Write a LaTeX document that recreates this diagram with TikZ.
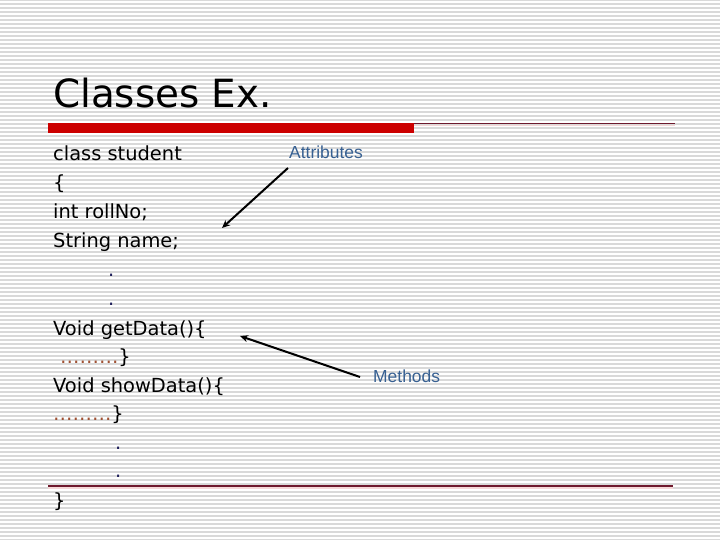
\documentclass[tikz,border=0pt]{standalone}
\usepackage{fontspec}
\setmainfont{DejaVu Sans}
\newfontfamily\labelfont{Liberation Sans}
\usetikzlibrary{arrows.meta}
\definecolor{barred}{RGB}{204,0,0}
\definecolor{rulered}{RGB}{110,25,45}
\definecolor{shadowpink}{RGB}{245,215,215}
\definecolor{labelblue}{RGB}{55,96,146}
\definecolor{dotbrown}{RGB}{160,80,50}
\definecolor{dotnavy}{RGB}{30,30,90}
\tikzset{
  stripe/.style={draw=black!15, line width=1.1bp},
  codeline/.style={anchor=base west, inner sep=0pt, font=\fontsize{19.5}{19.5}\selectfont},
  titletext/.style={anchor=base west, inner sep=0pt, font=\fontsize{39}{39}\selectfont},
  tag/.style={anchor=base west, inner sep=0pt, text=labelblue, font=\labelfont\fontsize{17.5}{17.5}\selectfont},
  pointer/.style={draw=black, line width=2bp, -{Stealth[length=8bp,width=7bp]}},
  thinrule/.style={draw=rulered, line width=1.4bp},
}
\begin{document}
\begin{tikzpicture}[x=1bp,y=-1bp]
\useasboundingbox (0,0) rectangle (720,540);
\fill[white] (0,0) rectangle (720,540);
% background stripes
\foreach \yy in {0,4,...,540} \draw[stripe] (0,\yy) -- (720,\yy);
% title and rules
\node[titletext] (title) at (53,108) {Classes Ex.};
\fill[barred] (48,123) rectangle (414,133);
\draw[shadowpink, line width=1.5bp] (414,125.5) -- (675,125.5);
\draw[thinrule] (414,123.8) -- (675,123.8);
\draw[shadowpink, line width=2bp] (48,488) -- (673,488);
\draw[thinrule] (48,486) -- (673,486);
% code
\node[codeline] (l0) at (53,161) {class student};
\node[codeline] (l1) at (53,190) {\{};
\node[codeline] (l2) at (53,219) {int rollNo;};
\node[codeline] (l3) at (53,248) {String name;};
\node[codeline, text=dotnavy] (l4) at (108,277) {.};
\node[codeline, text=dotnavy] (l5) at (108,305) {.};
\node[codeline] (l6) at (53,335) {Void getData()\{};
\node[codeline] (l7) at (60,363) {\textcolor{dotbrown}{………}\}};
\node[codeline] (l8) at (53,392) {Void showData()\{};
\node[codeline] (l9) at (53,420) {\textcolor{dotbrown}{………}\}};
\node[codeline, text=dotnavy] (l10) at (115,449) {.};
\node[codeline, text=dotnavy] (l11) at (115,477) {.};
\node[codeline] (l12) at (53,507) {\}};
% labels and arrows
\node[tag] (attr) at (289,159) {Attributes};
\node[tag] (meth) at (373,382) {Methods};
\coordinate (attrstart) at (288,168);
\coordinate (attrend) at (222,228);
\coordinate (methstart) at (360,377);
\coordinate (methend) at (240,336);
\draw[pointer] (attrstart) -- (attrend);
\draw[pointer] (methstart) -- (methend);
\end{tikzpicture}
\end{document}
